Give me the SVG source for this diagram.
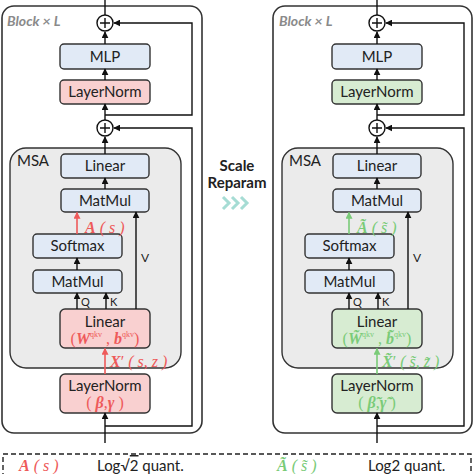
<svg xmlns="http://www.w3.org/2000/svg" width="474" height="474" viewBox="0 0 474 474">
<defs>
<marker id="ah" viewBox="0 0 10 10" refX="9" refY="5" markerWidth="7" markerHeight="7" markerUnits="userSpaceOnUse" orient="auto"><path d="M0,0L10,5L0,10z" fill="#111"/></marker>
<marker id="ahr" viewBox="0 0 10 10" refX="9" refY="5" markerWidth="7" markerHeight="7" markerUnits="userSpaceOnUse" orient="auto"><path d="M0,0L10,5L0,10z" fill="#ee5a5a"/></marker>
<marker id="ahg" viewBox="0 0 10 10" refX="9" refY="5" markerWidth="7" markerHeight="7" markerUnits="userSpaceOnUse" orient="auto"><path d="M0,0L10,5L0,10z" fill="#7acb78"/></marker>
</defs>
<style>
.blk{fill:#fff;stroke:#333;stroke-width:1.6}
.msa{fill:#ebebeb;stroke:#333;stroke-width:1.4}
.bl{fill:#e1eaf6;stroke:#333;stroke-width:1.4}
.pk{fill:#f9d0d0;stroke:#333;stroke-width:1.4}
.gr{fill:#d7ecd2;stroke:#333;stroke-width:1.4}
.ln{fill:none;stroke:#111;stroke-width:1.4}
.lr{fill:none;stroke:#ee5a5a;stroke-width:1.6}
.lg{fill:none;stroke:#7acb78;stroke-width:1.6}
.t{font-family:Lato,"Open Sans",sans-serif;font-size:15px;fill:#222;text-anchor:middle}
.s{font-family:Lato,"Open Sans",sans-serif;font-size:11px;fill:#222}
.bt{font-family:Lato,"Open Sans",sans-serif;font-size:14px;font-weight:bold;font-style:italic;fill:#8a8a8a}
.m{font-family:"Liberation Serif",serif;font-size:16px}
.mr{fill:#ee5a5a}
.mg{fill:#7acb78}
.bi{font-weight:bold;font-style:italic}
.it{font-style:italic}
.sup{font-size:8px}
</style>

<!-- LEFT BLOCK -->
<g id="block-left">
<rect class="blk" x="2" y="6" width="200" height="427" rx="12"/>
<text class="bt" x="7" y="26">Block × L</text>
</g>
<g id="msa-left">
<rect class="msa" x="10" y="148" width="171" height="220" rx="16"/>
<text class="t" x="17" y="166" style="text-anchor:start">MSA</text>
</g>
<g id="plus1-left"><circle cx="105" cy="23" r="8" fill="#fff" stroke="#111" stroke-width="1.4"/><path class="ln" d="M100,23H110M105,18V28"/></g>
<g id="plus2-left"><circle cx="105" cy="128" r="8" fill="#fff" stroke="#111" stroke-width="1.4"/><path class="ln" d="M100,128H110M105,123V133"/></g>
<g id="mlp-left"><rect class="bl" x="60" y="44" width="90" height="25" rx="4"/><text class="t" x="105" y="62">MLP</text></g>
<g id="ln1-left"><rect class="pk" x="60" y="80" width="90" height="24" rx="4"/><text class="t" x="105" y="97">LayerNorm</text></g>
<g id="linear-out-left"><rect class="bl" x="61" y="154" width="88" height="24" rx="4"/><text class="t" x="105" y="171">Linear</text></g>
<g id="matmul2-left"><rect class="bl" x="61" y="189" width="88" height="23" rx="4"/><text class="t" x="105" y="206">MatMul</text></g>
<g id="softmax-left"><rect class="bl" x="33" y="234" width="89" height="24" rx="4"/><text class="t" x="77.5" y="251">Softmax</text></g>
<g id="matmul1-left"><rect class="bl" x="33" y="270" width="89" height="23" rx="4"/><text class="t" x="77.5" y="287">MatMul</text></g>
<g id="linear-qkv-left"><rect class="pk" x="60" y="309" width="90" height="39" rx="5"/><text class="t" x="105" y="327">Linear</text>
<text class="m mr" x="105" y="344" text-anchor="middle">(<tspan class="bi">W</tspan><tspan class="sup" dy="-7">qkv</tspan><tspan dy="7"> , </tspan><tspan class="bi">b</tspan><tspan class="sup" dy="-7">qkv</tspan><tspan dy="7">)</tspan></text></g>
<g id="ln0-left"><rect class="pk" x="60" y="374" width="90" height="39" rx="5"/><text class="t" x="105" y="391">LayerNorm</text>
<text class="m mr" x="105" y="408" text-anchor="middle">( <tspan class="bi">β</tspan>,<tspan class="bi">γ</tspan> )</text></g>

<g id="connectors-left">
<path class="ln" d="M105,0V15"/>
<path class="ln" d="M105,44V32" marker-end="url(#ah)"/>
<path class="ln" d="M105,80V69" marker-end="url(#ah)"/>
<path class="ln" d="M105,120V104" marker-end="url(#ah)"/>
<path class="ln" d="M105,115H192V23H114" marker-end="url(#ah)"/>
<path class="ln" d="M105,154V137" marker-end="url(#ah)"/>
<path class="ln" d="M105,426H192V128H114" marker-end="url(#ah)"/>
<path class="ln" d="M105,189V178" marker-end="url(#ah)"/>
<path class="lr" d="M77,234V212.5" marker-end="url(#ahr)"/>
<path class="ln" d="M77,270V258" marker-end="url(#ah)"/>
<path class="ln" d="M77,309V293" marker-end="url(#ah)"/>
<path class="ln" d="M106,309V293" marker-end="url(#ah)"/>
<path class="ln" d="M136,309V212" marker-end="url(#ah)"/>
<path class="lr" d="M105,374V348.5" marker-end="url(#ahr)"/>
<path class="ln" d="M105,443V413" marker-end="url(#ah)"/>
<text class="m mr" x="85" y="233"><tspan class="bi">A</tspan><tspan class="it"> ( s )</tspan></text>
<text class="s" x="81" y="306">Q</text>
<text class="s" x="110" y="306">K</text>
<text class="s" x="141" y="262" style="font-size:12px">V</text>
<text class="m mr" x="110" y="367"><tspan class="bi">X</tspan><tspan>′</tspan><tspan class="it"> ( s,  z )</tspan></text>
</g>

<!-- MIDDLE -->
<g id="scale-reparam">
<text class="t" x="237" y="171" style="font-weight:bold">Scale</text>
<text class="t" x="237" y="188" style="font-weight:bold">Reparam</text>
<path d="M223,197L229,203L223,209M232,197L238,203L232,209M241,197L247,203L241,209" fill="none" stroke="#a6dcd4" stroke-width="3"/>
</g>

<!-- RIGHT BLOCK -->
<g id="block-right">
<rect class="blk" x="273" y="6" width="199" height="427" rx="12"/>
<text class="bt" x="279" y="26">Block × L</text>
</g>
<g id="msa-right">
<rect class="msa" x="282" y="148" width="171" height="220" rx="16"/>
<text class="t" x="289" y="166" style="text-anchor:start">MSA</text>
</g>
<g id="plus1-right"><circle cx="377" cy="23" r="8" fill="#fff" stroke="#111" stroke-width="1.4"/><path class="ln" d="M372,23H382M377,18V28"/></g>
<g id="plus2-right"><circle cx="377" cy="128" r="8" fill="#fff" stroke="#111" stroke-width="1.4"/><path class="ln" d="M372,128H382M377,123V133"/></g>
<g id="mlp-right"><rect class="bl" x="332" y="44" width="90" height="25" rx="4"/><text class="t" x="377" y="62">MLP</text></g>
<g id="ln1-right"><rect class="gr" x="332" y="80" width="90" height="24" rx="4"/><text class="t" x="377" y="97">LayerNorm</text></g>
<g id="linear-out-right"><rect class="bl" x="333" y="154" width="88" height="24" rx="4"/><text class="t" x="377" y="171">Linear</text></g>
<g id="matmul2-right"><rect class="bl" x="333" y="189" width="88" height="23" rx="4"/><text class="t" x="377" y="206">MatMul</text></g>
<g id="softmax-right"><rect class="bl" x="305" y="234" width="89" height="24" rx="4"/><text class="t" x="349.5" y="251">Softmax</text></g>
<g id="matmul1-right"><rect class="bl" x="305" y="270" width="89" height="23" rx="4"/><text class="t" x="349.5" y="287">MatMul</text></g>
<g id="linear-qkv-right"><rect class="gr" x="332" y="309" width="90" height="39" rx="5"/><text class="t" x="377" y="327">Linear</text>
<text class="m mg" x="377" y="344" text-anchor="middle">(<tspan class="bi">W̃</tspan><tspan class="sup" dy="-7">qkv</tspan><tspan dy="7"> , </tspan><tspan class="bi">b̃</tspan><tspan class="sup" dy="-7">qkv</tspan><tspan dy="7">)</tspan></text></g>
<g id="ln0-right"><rect class="gr" x="332" y="374" width="90" height="39" rx="5"/><text class="t" x="377" y="391">LayerNorm</text>
<text class="m mg" x="377" y="408" text-anchor="middle">( <tspan class="bi">β̃</tspan>,<tspan class="bi">γ̃</tspan> )</text></g>

<g id="connectors-right">
<path class="ln" d="M377,0V15"/>
<path class="ln" d="M377,44V32" marker-end="url(#ah)"/>
<path class="ln" d="M377,80V69" marker-end="url(#ah)"/>
<path class="ln" d="M377,120V104" marker-end="url(#ah)"/>
<path class="ln" d="M377,115H464V23H386" marker-end="url(#ah)"/>
<path class="ln" d="M377,154V137" marker-end="url(#ah)"/>
<path class="ln" d="M377,426H464V128H386" marker-end="url(#ah)"/>
<path class="ln" d="M377,189V178" marker-end="url(#ah)"/>
<path class="lg" d="M349,234V212.5" marker-end="url(#ahg)"/>
<path class="ln" d="M349,270V258" marker-end="url(#ah)"/>
<path class="ln" d="M349,309V293" marker-end="url(#ah)"/>
<path class="ln" d="M378,309V293" marker-end="url(#ah)"/>
<path class="ln" d="M408,309V212" marker-end="url(#ah)"/>
<path class="lg" d="M377,374V348.5" marker-end="url(#ahg)"/>
<path class="ln" d="M377,443V413" marker-end="url(#ah)"/>
<text class="m mg" x="357" y="233"><tspan class="bi">Ã</tspan><tspan class="it"> ( s̃ )</tspan></text>
<text class="s" x="353" y="306">Q</text>
<text class="s" x="382" y="306">K</text>
<text class="s" x="413" y="262" style="font-size:12px">V</text>
<text class="m mg" x="382" y="367"><tspan class="bi">X̃</tspan><tspan>′</tspan><tspan class="it"> ( s̃,  z̃ )</tspan></text>
</g>

<!-- LEGEND -->
<g id="legend">
<rect x="3" y="454" width="468" height="40" fill="none" stroke="#222" stroke-width="1.4" stroke-dasharray="5,3"/>
<text class="m mr" x="19" y="471"><tspan class="bi">A</tspan><tspan class="it"> ( s )</tspan></text>
<text class="t" x="97" y="471" style="text-anchor:start">Log√<tspan text-decoration="overline">2</tspan> quant.</text>
<text class="m mg" x="277" y="471"><tspan class="bi">Ã</tspan><tspan class="it"> ( s̃ )</tspan></text>
<text class="t" x="368" y="471" style="text-anchor:start">Log2 quant.</text>
</g>
</svg>
